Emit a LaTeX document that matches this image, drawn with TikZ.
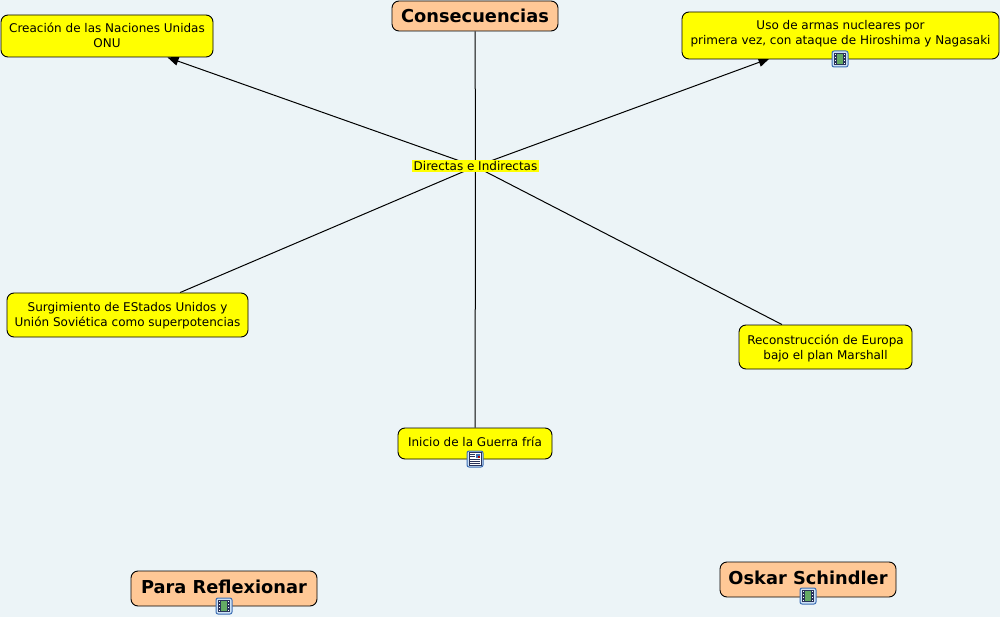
\documentclass[tikz,border=0pt]{standalone}
\usepackage{fontspec}
\setmainfont{DejaVu Sans}
\usetikzlibrary{arrows.meta}
\pgfdeclarelayer{linklayer}
\pgfsetlayers{linklayer,main}
\definecolor{bgc}{RGB}{236,244,247}
\definecolor{orangec}{RGB}{255,200,150}
\definecolor{yelc}{RGB}{255,255,0}
\definecolor{iconb}{RGB}{60,110,180}
\definecolor{iconf}{RGB}{205,225,245}
\definecolor{filmd}{RGB}{40,50,90}
\definecolor{filmg}{RGB}{100,170,100}
\tikzset{
  concept/.style={draw=black,line width=0.9pt,fill=yelc,rounded corners=7pt,align=center,inner sep=0pt,font=\fontsize{12}{15}\selectfont,text=black},
  title/.style={draw=black,line width=0.9pt,fill=orangec,rounded corners=7pt,align=center,inner sep=0pt,font=\fontsize{17.8}{21}\bfseries\selectfont,text=black},
  linking/.style={fill=yelc,inner sep=0pt,font=\fontsize{12}{14}\selectfont,text=black},
  link/.style={draw=black,line width=1pt},
  linkarrow/.style={link,-{Triangle[length=11pt,width=9pt]}},
}
\newcommand{\twolines}[3]{\raisebox{#1}[5pt][5pt]{\begin{tabular}{@{}c@{}}#2\\#3\end{tabular}}}
\newcommand{\iconframe}[2]{%
  \filldraw[draw=iconb,fill=iconf,line width=1pt,rounded corners=2pt] (#1-8,#2-8) rectangle (#1+8,#2+8);}
\newcommand{\iconfilm}[2]{%
  \iconframe{#1}{#2}
  \fill[filmd] (#1-6,#2-6) rectangle (#1+6,#2+6);
  \fill[filmg] (#1-3,#2-5) rectangle (#1+3,#2+5);
  \foreach \k in {-5,-2,1,4}{
    \fill[white] (#1-5.3,#2+\k) rectangle (#1-4,#2+\k+1.2);
    \fill[white] (#1+4,#2+\k) rectangle (#1+5.3,#2+\k+1.2);}
}
\newcommand{\icondoc}[2]{%
  \iconframe{#1}{#2}
  \filldraw[draw=filmd,fill=white,line width=0.6pt] (#1-6,#2-6.5) rectangle (#1+6,#2+6.5);
  \fill[iconb] (#1+0.5,#2-5.5) rectangle (#1+5,#2-1.5);
  \fill[red!70!black] (#1+2.5,#2-3.5) rectangle (#1+5,#2-1.5);
  \foreach \k in {-5,-3}{\draw[filmd,line width=0.8pt] (#1-5,#2+\k) -- (#1-0.5,#2+\k);}
  \foreach \k in {0,2,4}{\draw[filmd,line width=0.8pt] (#1-5,#2+\k) -- (#1+5,#2+\k);}
}
\begin{document}
\begin{tikzpicture}[x=1pt,y=-1pt]
\begin{pgfonlayer}{linklayer}
\path[use as bounding box,fill=bgc] (0,0) rectangle (1000,617);
\end{pgfonlayer}
\node[linking,minimum width=127pt,minimum height=12pt] (mid) at (475.5,166.5) {\raisebox{-0.5pt}{Directas e Indirectas}};
\node[title,minimum width=166pt,minimum height=30pt] (cons) at (475,16) {\raisebox{-1pt}{Consecuencias}};
\node[concept,minimum width=212pt,minimum height=42pt] (onu) at (107,36) {\twolines{-4.5pt}{Creación de las Naciones Unidas}{ONU}};
\node[concept,minimum width=317pt,minimum height=47pt] (uso) at (840.5,35.5) {\twolines{-2pt}{Uso de armas nucleares por}{primera vez, con ataque de Hiroshima y Nagasaki}};
\node[concept,minimum width=241pt,minimum height=44pt] (sup) at (127.5,315) {\twolines{-4.5pt}{Surgimiento de EStados Unidos y}{Unión Soviética como superpotencias}};
\node[concept,minimum width=173pt,minimum height=44pt] (rec) at (825.5,347) {\twolines{-5pt}{Reconstrucción de Europa}{bajo el plan Marshall}};
\node[concept,minimum width=154pt,minimum height=31pt] (ini) at (475,443.5) {\raisebox{3pt}{Inicio de la Guerra fría}};
\node[title,minimum width=186pt,minimum height=35pt] (par) at (224,588.5) {\raisebox{3pt}{Para Reflexionar}};
\node[title,minimum width=176pt,minimum height=35pt] (osk) at (808,579.5) {\raisebox{3pt}{Oskar Schindler}};
\coordinate (usotip) at (769.5,58.5);
\begin{pgfonlayer}{linklayer}
\draw[link] (cons) -- (mid);
\draw[linkarrow] (mid.center) -- (onu);
\draw[linkarrow] (mid.center) -- (usotip);
\draw[link] (mid.center) -- (sup);
\draw[link] (mid.center) -- (rec);
\draw[link] (mid.center) -- (ini);
\end{pgfonlayer}
\iconfilm{840}{59}
\icondoc{475}{459}
\iconfilm{224}{606}
\iconfilm{808}{596}
\end{tikzpicture}
\end{document}
